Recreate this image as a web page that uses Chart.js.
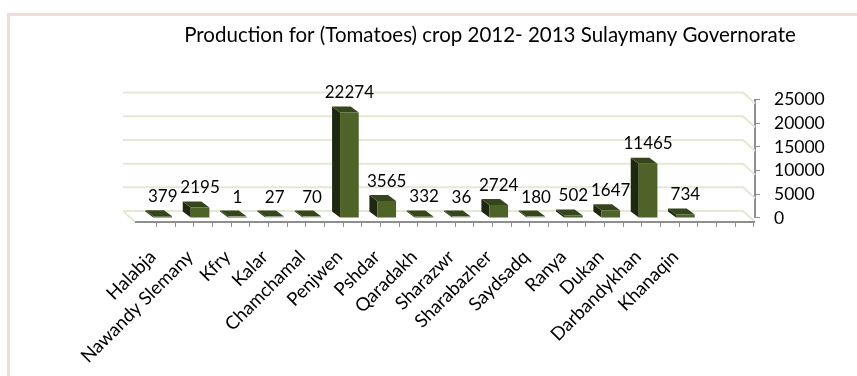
<!DOCTYPE html>
<html>
<head>
<meta charset="utf-8">
<script src="https://cdn.jsdelivr.net/npm/chart.js@4.4.1/dist/chart.umd.min.js"></script>
<style>
  html, body { margin: 0; padding: 0; background: #fff; overflow: hidden; }
  #wrap { position: relative; width: 857px; height: 376px; overflow: hidden; }
  #frame { position: absolute; left: 7px; top: 13px; width: 900px; height: 420px; border: 3px solid #f2dcdb; box-sizing: border-box; }
  #tomatoChart { position: absolute; left: 0; top: 0; }
</style>
</head>
<body>
<div id="wrap">
  <div id="frame"></div>
  <canvas id="tomatoChart" width="857" height="376"></canvas>
</div>
<script>
const categories = ['Halabja', 'Nawandy Slemany', 'Kfry', 'Kalar', 'Chamchamal', 'Penjwen', 'Pshdar',
  'Qaradakh', 'Sharazwr', 'Sharabazher', 'Saydsadq', 'Ranya', 'Dukan', 'Darbandykhan', 'Khanaqin'];
const production = [379, 2195, 1, 27, 70, 22274, 3565, 332, 36, 2724, 180, 502, 1647, 11465, 734];
const yTicks = [0, 5000, 10000, 15000, 20000, 25000];
const chartTitle = 'Production for (Tomatoes) crop 2012- 2013 Sulaymany Governorate';

const FONT = 'Lato';
const BAR_DX = -8, BAR_DY = -6;     // depth of the boxes
const WALL_DX = -12, WALL_DY = -11; // back wall vs front axis
const FRONT_DY = 4;                 // front axis sits a bit below the bar base

// fake 3d: back wall gridlines, floor, front axis, bar sides + tops, value labels
const box3d = {
    id: 'box3d',
    beforeDatasetsDraw(chart) {
        const { ctx, chartArea, scales: { x, y } } = chart;
        const left = chartArea.left, right = chartArea.right;
        ctx.save();

        ctx.strokeStyle = '#e2ead4';
        ctx.lineWidth = 2;
        yTicks.forEach(v => {
            const py = y.getPixelForValue(v) + FRONT_DY;
            ctx.beginPath();
            ctx.moveTo(left, py + WALL_DY);
            ctx.lineTo(right + WALL_DX, py + WALL_DY);
            ctx.lineTo(right, py);
            ctx.stroke();
        });
        const y0 = y.getPixelForValue(0) + FRONT_DY;
        ctx.beginPath();
        ctx.moveTo(left, y0 + WALL_DY);
        ctx.lineTo(left - WALL_DX, y0);
        ctx.stroke();

        // front axis with a tick every half category
        ctx.strokeStyle = '#8e8e8e';
        ctx.lineWidth = 2;
        ctx.beginPath();
        ctx.moveTo(left - WALL_DX, y0);
        ctx.lineTo(right, y0);
        ctx.stroke();
        ctx.lineWidth = 1;
        ctx.beginPath();
        for (let v = x.min; ; v += 0.5) {
            const px = Math.round(x.getPixelForValue(v) - WALL_DX) + 0.5;
            if (px > right + 1) break;
            ctx.moveTo(px, y0);
            ctx.lineTo(px, y0 + 5);
        }
        ctx.stroke();

        const meta = chart.getDatasetMeta(0);
        meta.data.forEach(bar => {
            const l = bar.x - bar.width / 2, r = bar.x + bar.width / 2;
            const t = Math.min(bar.y, bar.base - 1), b = bar.base;
            ctx.fillStyle = '#1e2810';
            ctx.beginPath();
            ctx.moveTo(l, b); ctx.lineTo(l, t);
            ctx.lineTo(l + BAR_DX, t + BAR_DY); ctx.lineTo(l + BAR_DX, b + BAR_DY);
            ctx.closePath(); ctx.fill();
            ctx.fillStyle = '#36461c';
            ctx.beginPath();
            ctx.moveTo(l, t); ctx.lineTo(r, t);
            ctx.lineTo(r + BAR_DX, t + BAR_DY); ctx.lineTo(l + BAR_DX, t + BAR_DY);
            ctx.closePath(); ctx.fill();
        });
        ctx.restore();
    },
    afterDatasetsDraw(chart) {
        const { ctx } = chart;
        const meta = chart.getDatasetMeta(0);
        ctx.save();
        ctx.font = '17px ' + FONT;
        ctx.fillStyle = '#000';
        ctx.textAlign = 'center';
        ctx.textBaseline = 'middle';
        meta.data.forEach((bar, i) => {
            ctx.fillText(String(production[i]), bar.x, bar.y - 20);
        });
        ctx.restore();
    }
};

const ctx = document.getElementById('tomatoChart').getContext('2d');

const tomatoChart = new Chart(ctx, {
    type: 'bar',
    data: {
        datasets: [{
            label: 'Production',
            data: production.map((v, i) => ({ x: i, y: v })),
            backgroundColor: '#4f6228',
            borderWidth: 0,
            categoryPercentage: 1,
            barPercentage: 0.5
        }]
    },
    options: {
        responsive: false,
        animation: false,
        layout: { padding: { left: 123, right: 0, top: 0, bottom: 0 } },
        plugins: {
            legend: { display: false },
            tooltip: { enabled: false },
            title: {
                display: true,
                text: chartTitle,
                color: '#000',
                font: { family: FONT, size: 20.5, weight: 'normal' },
                padding: { top: 23, bottom: 52 }
            }
        },
        scales: {
            x: {
                type: 'linear',
                min: -0.5,
                max: categories.length + 0.3,
                afterFit: s => { s.height = 158; },
                afterBuildTicks: s => { s.ticks = categories.map((c, i) => ({ value: i })); },
                grid: { display: false },
                border: { display: false },
                ticks: {
                    autoSkip: false,
                    minRotation: 45,
                    maxRotation: 45,
                    padding: 20,
                    labelOffset: -10,
                    color: '#000',
                    font: { family: FONT, size: 18.5 },
                    callback: v => categories[v] || ''
                }
            },
            y: {
                position: 'right',
                min: 0,
                max: 25000,
                afterFit: s => { s.width = 102; },
                afterBuildTicks: s => { s.ticks = yTicks.map(v => ({ value: v })); },
                grid: { drawOnChartArea: false, tickLength: 5, color: '#8e8e8e' },
                border: { color: '#8e8e8e', width: 2 },
                ticks: {
                    autoSkip: false,
                    padding: 14,
                    color: '#000',
                    font: { family: FONT, size: 17.5 },
                    callback: v => String(v)
                }
            }
        }
    },
    plugins: [box3d]
});
</script>
</body>
</html>
